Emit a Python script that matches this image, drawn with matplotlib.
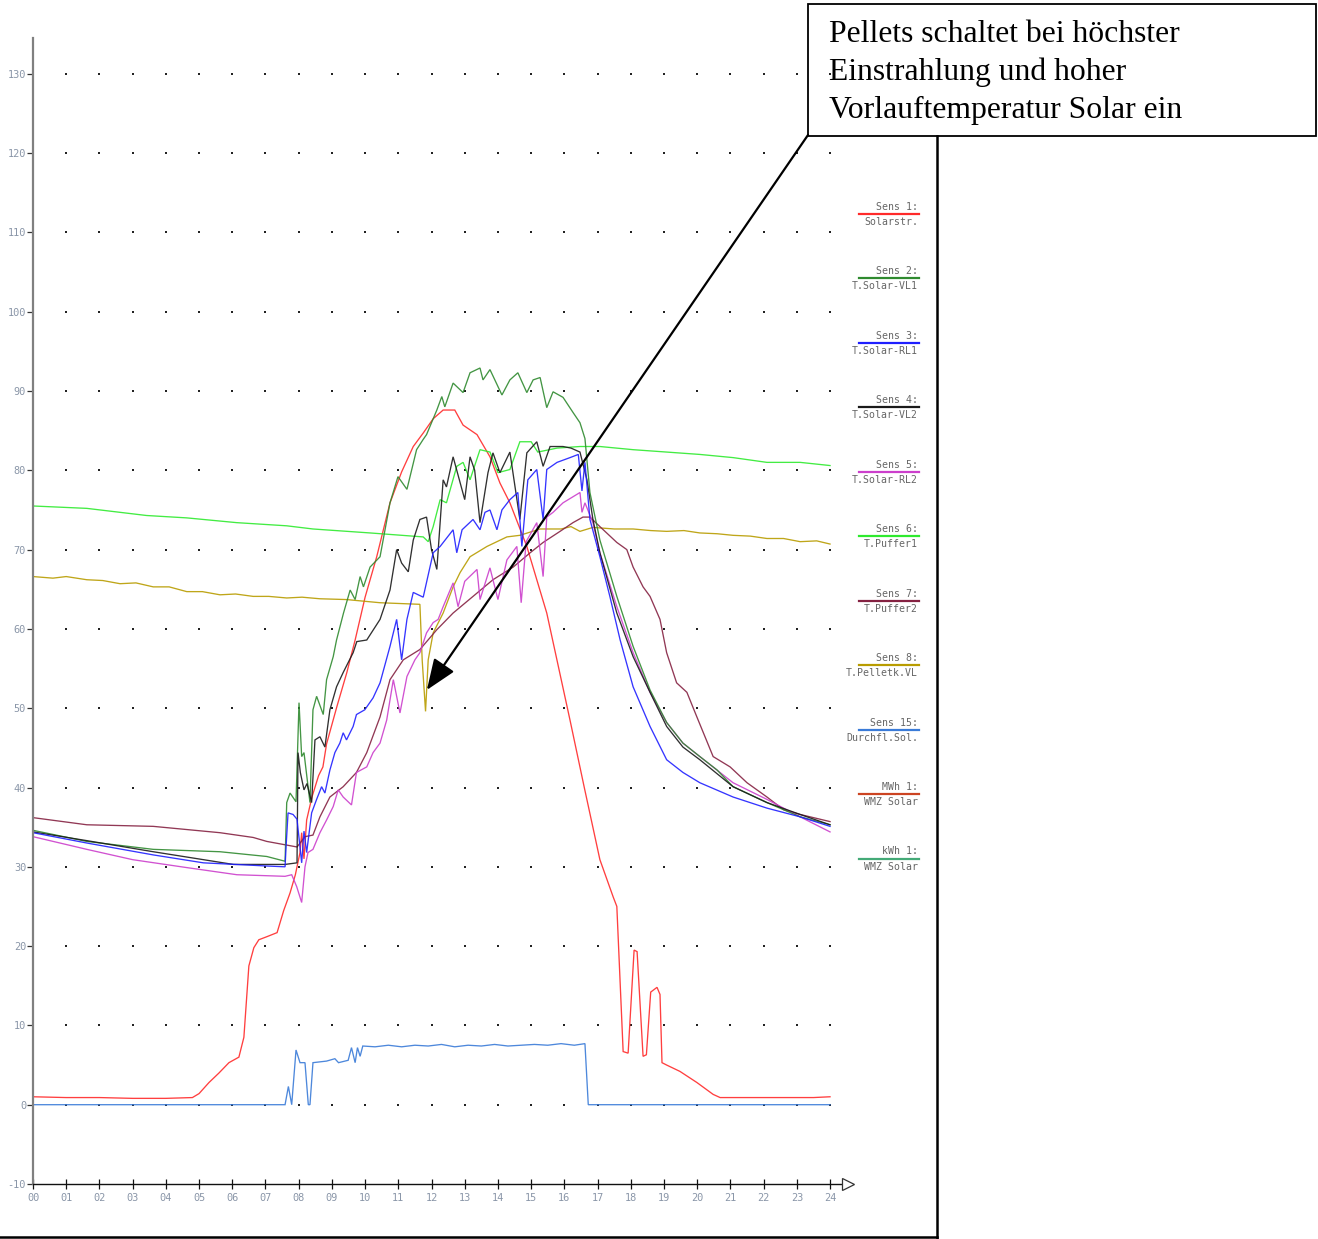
import numpy as np
import matplotlib.pyplot as plt
from matplotlib.patches import Rectangle

# Tagesverlauf der Solaranlage, Werte pro Stunde (h, Wert)

solar_h = [0, 1, 2, 3, 4, 4.8, 5.0, 5.3, 5.6, 5.9, 6.2, 6.35, 6.5, 6.65, 6.8, 7.05, 7.35, 7.55, 7.74, 7.9,
           8.04, 8.09, 8.16, 8.24, 8.4, 8.6, 8.73, 8.84, 9.15, 9.45, 9.7, 10.0, 10.35, 10.75, 11.1, 11.45,
           11.75, 12.05, 12.35, 12.7, 12.95, 13.37, 13.76, 14.06, 14.36, 14.87, 15.47, 16.17, 16.6, 17.07,
           17.47, 17.58, 17.77, 17.92, 18.1, 18.19, 18.37, 18.47, 18.6, 18.79, 18.88, 18.94, 19.08, 19.48,
           19.99, 20.48, 20.69, 21.5, 22.5, 23.5, 24]
solar_v = [1.0, 0.9, 0.9, 0.8, 0.8, 0.9, 1.4, 2.8, 4.0, 5.3, 6.0, 8.5, 17.5, 19.8, 20.8, 21.2, 21.7, 24.5, 26.7, 29.0,
           31.8, 34.3, 31.0, 35.9, 38.8, 41.5, 42.6, 45.5, 50.2, 54.5, 58.6, 64.0, 69.1, 75.9, 79.8, 83.0,
           84.7, 86.5, 87.6, 87.6, 85.7, 84.5, 81.7, 78.4, 75.9, 70.4, 62.0, 48.5, 40.0, 30.9,
           26.2, 25.0, 6.7, 6.5, 19.5, 19.3, 6.1, 6.3, 14.2, 14.8, 13.9, 5.3, 5.0, 4.2,
           2.8, 1.3, 0.9, 0.9, 0.9, 0.9, 1.0]

vl1_h = [0, 1.62, 3.62, 5.63, 7.04, 7.59, 7.64, 7.74, 7.92, 8.01, 8.09, 8.16, 8.34, 8.43, 8.54, 8.74, 8.84, 9.04,
         9.14, 9.35, 9.55, 9.7, 9.85, 9.95, 10.15, 10.45, 10.75, 10.99, 11.26, 11.55, 11.75, 11.85, 12.16, 12.31,
         12.4, 12.65, 12.95, 13.16, 13.46, 13.55, 13.76, 14.12, 14.36, 14.6, 14.87, 15.06, 15.27, 15.47, 15.66,
         15.96, 16.26, 16.47, 16.62, 16.77, 17.07, 17.58, 18.07, 18.58, 19.08, 19.57, 20.08, 20.6, 21.08, 22.1,
         23.1, 24]
vl1_v = [34.6, 33.2, 32.2, 31.9, 31.3, 30.7, 38.1, 39.3, 38.2, 50.7, 43.9, 44.4, 38.1, 49.8, 51.5, 49.2, 53.6, 56.5,
         58.6, 62.0, 64.9, 63.7, 66.6, 65.3, 67.8, 69.1, 75.9, 79.2, 77.6, 82.6, 83.9, 84.5, 87.6, 89.3,
         88.0, 91.0, 89.8, 92.3, 92.9, 91.4, 92.7, 89.5, 91.4, 92.3, 89.8, 91.4, 91.7, 87.9, 89.9,
         89.2, 87.3, 86.0, 84.0, 77.2, 71.2, 64.1, 57.8, 52.3, 48.2, 45.6, 43.9, 42.2, 40.1, 38.1,
         36.3, 35.3]

rl1_h = [0, 1.62, 3.62, 5.13, 7.04, 7.59, 7.62, 7.68, 7.83, 7.95, 8.09, 8.16, 8.24, 8.39, 8.54, 8.69, 8.79, 8.94,
         9.09, 9.24, 9.34, 9.44, 9.64, 9.74, 9.99, 10.24, 10.45, 10.75, 10.95, 11.1, 11.26, 11.45, 11.75, 12.05,
         12.26, 12.65, 12.76, 12.92, 13.25, 13.46, 13.61, 13.76, 13.97, 14.12, 14.36, 14.6, 14.72, 14.9, 15.17,
         15.36, 15.47, 15.78, 16.17, 16.42, 16.53, 16.62, 16.77, 17.07, 17.37, 17.68, 18.07, 18.58, 19.08, 19.57,
         20.08, 21.08, 22.1, 23.1, 24]
rl1_v = [34.3, 33.0, 31.5, 30.5, 30.1, 30.0, 32.5, 36.8, 36.6, 36.0, 30.5, 34.5, 31.8, 36.8, 38.5, 40.1, 39.3, 42.2,
         44.4, 45.6, 46.9, 46.0, 47.7, 49.2, 49.8, 51.3, 53.2, 57.8, 61.2, 56.1, 61.2, 64.6, 64.0, 69.6,
         70.4, 72.5, 69.6, 72.5, 73.8, 72.5, 74.7, 75.0, 72.5, 75.0, 76.3, 77.2, 70.4, 78.8, 80.1,
         73.8, 80.1, 81.0, 81.6, 82.0, 77.4, 81.0, 73.8, 69.1, 64.1, 58.6, 52.7, 47.7, 43.5, 41.9,
         40.6, 38.8, 37.4, 36.3, 35.1]

vl2_h = [0, 1.62, 3.62, 5.13, 6.03, 7.59, 7.95, 7.98, 8.05, 8.16, 8.25, 8.39, 8.49, 8.64, 8.79, 8.94, 9.14, 9.34,
         9.64, 9.75, 10.05, 10.45, 10.75, 10.95, 11.1, 11.3, 11.45, 11.65, 11.85, 12.0, 12.16, 12.35, 12.45, 12.65,
         13.0, 13.16, 13.3, 13.46, 13.7, 13.85, 14.06, 14.36, 14.66, 14.87, 15.17, 15.36, 15.57, 15.96, 16.2,
         16.47, 16.68, 16.86, 17.07, 17.58, 18.07, 18.58, 19.08, 19.57, 20.08, 21.08, 22.1, 23.1, 24]
vl2_v = [34.4, 33.3, 31.9, 30.9, 30.3, 30.3, 30.5, 44.4, 41.9, 39.7, 40.5, 38.1, 46.0, 46.4, 45.1, 49.8, 52.7, 54.5,
         57.0, 58.4, 58.6, 61.2, 64.9, 70.0, 68.3, 67.2, 71.2, 73.8, 74.1, 70.0, 67.5, 78.8, 77.9, 81.7,
         76.3, 81.7, 80.0, 73.4, 79.7, 82.2, 79.7, 82.3, 73.8, 82.2, 83.6, 80.5, 83.0, 83.0, 82.8,
         82.3, 78.8, 73.8, 69.6, 62.0, 56.5, 52.0, 47.7, 45.1, 43.5, 40.1, 38.1, 36.6, 35.3]

rl2_h = [0, 1.62, 3.0, 4.63, 6.14, 7.59, 7.79, 7.94, 8.09, 8.19, 8.28, 8.43, 8.64, 8.84, 9.04, 9.19, 9.34, 9.59,
         9.74, 10.05, 10.24, 10.45, 10.65, 10.85, 11.05, 11.26, 11.5, 11.65, 11.85, 12.05, 12.2, 12.35, 12.65,
         12.8, 13.0, 13.37, 13.46, 13.76, 14.0, 14.27, 14.57, 14.7, 14.85, 15.17, 15.36, 15.47, 15.66, 15.96,
         16.47, 16.53, 16.62, 16.86, 17.07, 17.58, 18.07, 18.58, 19.08, 19.57, 20.08, 21.08, 22.1, 23.1, 24]
rl2_v = [33.8, 32.2, 30.9, 29.9, 29.0, 28.8, 29.0, 27.5, 25.5, 30.0, 31.8, 32.2, 34.3, 35.9, 37.6, 39.7, 38.8, 37.8,
         41.9, 42.6, 44.4, 45.6, 48.5, 53.6, 49.4, 54.0, 56.1, 57.0, 59.5, 60.8, 61.2, 62.8, 65.8,
         62.8, 66.0, 67.5, 63.7, 67.7, 63.7, 68.7, 70.4, 63.3, 71.0, 73.4, 66.6, 74.1, 74.7, 75.9,
         77.2, 74.7, 75.9, 73.4, 69.6, 62.8, 57.0, 52.0, 48.2, 45.6, 43.9, 40.6, 38.5, 36.3, 34.4]

puffer1_h = [0, 1.62, 3.42, 4.63, 6.13, 7.64, 8.43, 10.15, 11.75, 11.9, 12.05, 12.26, 12.45, 12.76, 12.95, 13.16,
             13.46, 13.76, 14.0, 14.36, 14.66, 15.0, 15.2, 15.78, 16.47, 17.07, 18.07, 19.08, 20.08, 21.08, 22.1,
             23.1, 24]
puffer1_v = [75.5, 75.2, 74.3, 74.0, 73.4, 73.0, 72.6, 72.1, 71.6, 71.0, 72.9, 76.3, 75.9, 80.5, 81.0, 78.8,
             82.6, 82.3, 79.7, 80.1, 83.6, 83.6, 82.3, 82.8, 83.0, 83.0, 82.6, 82.3, 82.0, 81.6, 81.0,
             81.0, 80.6]

puffer2_h = [0, 1.62, 3.62, 5.63, 6.63, 7.04, 7.95, 8.19, 8.43, 8.64, 8.94, 9.34, 9.74, 10.05, 10.45, 10.75, 11.15,
             11.65, 12.16, 12.65, 13.25, 13.85, 14.46, 14.97, 15.36, 15.87, 16.26, 16.56, 16.77, 17.07, 17.58,
             17.88, 18.07, 18.37, 18.58, 18.88, 19.08, 19.38, 19.69, 19.99, 20.48, 20.99, 21.5, 22.1, 22.6, 23.1, 24]
puffer2_v = [36.2, 35.3, 35.1, 34.3, 33.7, 33.2, 32.5, 33.8, 34.0, 36.3, 38.8, 40.1, 41.9, 44.4, 48.9, 53.6, 56.1,
             57.4, 59.9, 62.0, 64.1, 66.2, 67.8, 69.6, 70.9, 72.3, 73.4, 74.1, 74.1, 72.9, 70.9,
             70.0, 67.8, 65.3, 64.1, 61.2, 57.0, 53.2, 52.0, 48.9, 43.9, 42.6, 40.6, 38.8, 37.2, 36.6, 35.7]

pellet_h = [0, 0.6, 1.0, 1.62, 2.1, 2.62, 3.1, 3.62, 4.1, 4.63, 5.1, 5.63, 6.1, 6.63, 7.1, 7.64, 8.1, 8.64, 9.44,
            10.45, 11.65, 11.72, 11.82, 11.9, 12.05, 12.35, 12.65, 12.86, 13.16, 13.67, 14.27, 14.66, 15.27, 15.9,
            16.2, 16.47, 16.86, 17.5, 18.07, 18.6, 19.08, 19.6, 20.08, 20.6, 21.08, 21.6, 22.1, 22.6, 23.1, 23.6, 24]
pellet_v = [66.6, 66.4, 66.6, 66.2, 66.1, 65.7, 65.8, 65.3, 65.3, 64.7, 64.7, 64.3, 64.4, 64.1, 64.1, 63.9, 64.0,
            63.8, 63.7, 63.3, 63.1, 56.0, 49.6, 56.1, 59.5, 62.0, 65.3, 67.1, 69.1, 70.4, 71.6, 71.8, 72.6, 72.6,
            72.9, 72.3, 72.8, 72.6, 72.6, 72.4, 72.3, 72.4, 72.1, 72.0, 71.8, 71.7, 71.4, 71.4, 71.0, 71.1, 70.7]

flow_h = [0, 7.59, 7.69, 7.79, 7.92, 8.04, 8.19, 8.29, 8.34, 8.43, 8.84, 9.09, 9.2, 9.49, 9.59, 9.7, 9.77, 9.85,
          9.93, 10.3, 10.7, 11.1, 11.5, 11.9, 12.3, 12.7, 13.1, 13.5, 13.9, 14.3, 14.7, 15.1, 15.5, 15.9, 16.3,
          16.62, 16.72, 24]
flow_v = [0, 0, 2.3, 0, 6.9, 5.3, 5.3, 0, 0, 5.3, 5.5, 5.8, 5.3, 5.6, 7.2, 5.3, 7.2, 6.1,
          7.4, 7.3, 7.5, 7.3, 7.5, 7.4, 7.6, 7.3, 7.5, 7.4, 7.6, 7.4, 7.5, 7.6, 7.5, 7.7, 7.5,
          7.7, 0, 0]

legend_top = ["Sens 1:", "Sens 2:", "Sens 3:", "Sens 4:", "Sens 5:", "Sens 6:", "Sens 7:", "Sens 8:",
              "Sens 15:", "MWh 1:", "kWh 1:"]
legend_name = ["Solarstr.", "T.Solar-VL1", "T.Solar-RL1", "T.Solar-VL2", "T.Solar-RL2", "T.Puffer1",
               "T.Puffer2", "T.Pelletk.VL", "Durchfl.Sol.", "WMZ Solar", "WMZ Solar"]
legend_col = ["#ff2a2a", "#2f8a2f", "#1f1fff", "#1a1a1a", "#cc3fcc", "#2eea2e", "#852242", "#b89c00",
              "#3a7bd8", "#cc4422", "#44aa77"]

hours = np.arange(0, 25)
hour_labels = ["%02d" % h for h in hours]
y_ticks = np.arange(-10, 131, 10)

W, H = 1318, 1239
fig = plt.figure(figsize=(W / 100, H / 100), dpi=100)

# axis frame in pixels: x 0h at 33px (33.21 px/h), y value 0 at 1105px (7.93 px/unit)
x_left, x_right = 33, 855
y_bot, y_top = 1184, 38
ax = fig.add_axes([x_left / W, (H - y_bot) / H, (x_right - x_left) / W, (y_bot - y_top) / H])
ax.set_xlim(0, (x_right - x_left) / 33.21)
ax.set_ylim(-10, -10 + (y_bot - y_top) / 7.93)

series = [
    (solar_h, solar_v, legend_col[0]),
    (flow_h, flow_v, legend_col[8]),
    (pellet_h, pellet_v, legend_col[7]),
    (puffer1_h, puffer1_v, legend_col[5]),
    (puffer2_h, puffer2_v, legend_col[6]),
    (rl2_h, rl2_v, legend_col[4]),
    (vl1_h, vl1_v, legend_col[1]),
    (vl2_h, vl2_v, legend_col[3]),
    (rl1_h, rl1_v, legend_col[2]),
]
for hs, vs, c in series:
    ax.plot(hs, vs, color=c, lw=0.95, alpha=0.9, solid_joinstyle="miter")

# dotted raster
gx, gy = np.meshgrid(hours[1:], np.arange(0, 131, 10))
ax.scatter(gx.ravel(), gy.ravel(), s=1.8, marker="s", color="#222222", lw=0, zorder=1)

for side in ["top", "right"]:
    ax.spines[side].set_visible(False)
ax.spines["left"].set_color("#808080")
ax.spines["left"].set_linewidth(1.6)
ax.spines["bottom"].set_color("#111111")
ax.spines["bottom"].set_linewidth(1.0)
ax.spines["bottom"].set_bounds(0, 24.4)
ax.plot([24.55], [-10], marker=">", ms=8, mfc="white", mec="#333333", mew=0.9, clip_on=False, zorder=5)

lab_font = dict(family="DejaVu Sans Mono", size=7.4, color="#8a96a8")
ax.set_xticks(hours)
ax.set_xticklabels(hour_labels, **lab_font)
ax.set_yticks(y_ticks)
ax.set_yticklabels([str(v) for v in y_ticks], **lab_font)
ax.tick_params(axis="x", direction="inout", length=7, width=0.9, color="#111111", pad=3)
ax.tick_params(axis="y", direction="out", length=4, width=0.9, color="#333333", pad=1)
ax.patch.set_visible(False)

# legend column on the right
for i, (top, name, c) in enumerate(zip(legend_top, legend_name, legend_col)):
    py = 214 + i * 64.45
    fig.add_artist(plt.Line2D([859 / W, 919 / W], [1 - py / H] * 2, color=c, lw=1.6))
    fig.text(918 / W, 1 - (py - 7) / H, top, ha="right", va="center",
             family="DejaVu Sans Mono", size=7.1, color="#666666")
    fig.text(918 / W, 1 - (py + 8) / H, name, ha="right", va="center",
             family="DejaVu Sans Mono", size=7.1, color="#666666")

# page frame lines
fig.add_artist(plt.Line2D([937 / W, 937 / W], [1 - 136 / H, 0], color="black", lw=1.8))
fig.add_artist(plt.Line2D([0, 937 / W], [1 - 1237 / H] * 2, color="black", lw=1.8))

# callout box with arrow
fig.add_artist(Rectangle((808 / W, 1 - 136 / H), (1316 - 808) / W, (136 - 4) / H,
                         transform=fig.transFigure, fill=False, ec="black", lw=1.3))
note = ["Pellets schaltet bei höchster", "Einstrahlung und hoher", "Vorlauftemperatur Solar ein"]
for i, line in enumerate(note):
    fig.text(829 / W, 1 - (35 + i * 37.5) / H, line, ha="left", va="center",
             family="Liberation Serif", size=22.8, color="black")

ax.annotate("", xy=(11.86, 52.3), xycoords="data",
            xytext=(808 / W, 1 - 135 / H), textcoords="figure fraction",
            arrowprops=dict(arrowstyle="-|>,head_length=1.9,head_width=0.75", color="black", lw=1.6,
                            shrinkA=0, shrinkB=0))

fig.savefig("out.png", dpi=100)
